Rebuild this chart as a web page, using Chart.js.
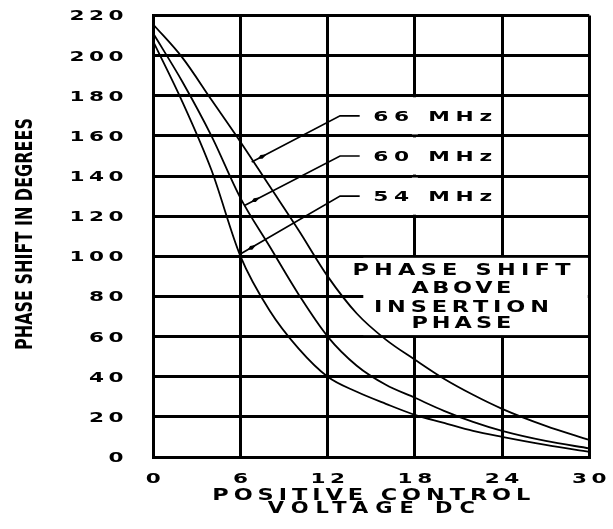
<!DOCTYPE html>
<html>
<head>
<meta charset="utf-8">
<script src="https://cdn.jsdelivr.net/npm/chart.js@4.4.1/dist/chart.umd.min.js"></script>
<style>
  html, body { margin: 0; padding: 0; background: #fff; }
  #wrap { width: 613px; height: 529px; }
</style>
</head>
<body>
<div id="wrap"><canvas id="chart"></canvas></div>
<script>
/* phase shift vs positive control voltage, three frequencies */
const voltage = [0, 2, 4, 6, 8, 10, 12, 14, 16, 18, 20, 22, 24, 27, 30];
const shift66 = [215.5, 199, 178, 157, 135, 113, 90, 71.5, 58.5, 48.5, 39, 31, 24, 15.5, 8.5];
const shift60 = [211, 187, 160, 129, 105, 81, 60, 45.5, 36, 29.5, 23, 17.5, 13, 8, 4.3];
const shift54 = [207, 177, 143, 100, 73, 54, 40, 32.5, 26.5, 21, 17, 13, 10, 6, 2.6];

const xTitle = ["POSITIVE CONTROL", "VOLTAGE DC"];
const yTitle = "PHASE SHIFT IN DEGREES";
const noteLines = ["PHASE SHIFT", "ABOVE", "INSERTION", "PHASE"];

/* leader callouts, in data units */
const leaders = [
  { text: "66 MHz", tip: [6.77, 147], elbow: [12.85, 170], end: [14.2, 170] },
  { text: "60 MHz", tip: [6.31, 125.5], elbow: [12.85, 150], end: [14.2, 150] },
  { text: "54 MHz", tip: [6.08, 101.5], elbow: [12.85, 130], end: [14.2, 130] },
];

const INK = "#000";
const CAD = "'DejaVu Sans', sans-serif";
const CAP = 0.729; // DejaVu cap height / em

function pts(ys) { return voltage.map((v, i) => ({ x: v, y: ys[i] })); }

/* wide, spaced drafting lettering. o: size, k (h-stretch), gap or width, align */
function cadText(ctx, text, x, y, o) {
  ctx.save();
  ctx.font = `bold ${o.size}px ${CAD}`;
  ctx.letterSpacing = "0px";
  const nat = ctx.measureText(text).width * o.k;
  const n = text.length;
  const gap = o.width != null && n > 1 ? (o.width - nat) / (n - 1) : (o.gap || 0);
  const w = nat + gap * (n - 1);
  const x0 = o.align === "center" ? x - w / 2 : o.align === "right" ? x - w : x;
  ctx.translate(x0, y + (o.size * CAP) / 2);
  ctx.scale(o.k, 1);
  ctx.letterSpacing = gap / o.k + "px";
  ctx.textAlign = "left";
  ctx.textBaseline = "alphabetic";
  ctx.fillStyle = INK;
  ctx.fillText(text, 0, 0);
  ctx.restore();
}

const TICK = { size: 13.5, k: 1.6, gap: 4.5 };

const draftPlugin = {
  id: "draft",
  beforeDatasetsDraw(chart) {
    const { ctx, scales: { x, y } } = chart;
    ctx.save();
    ctx.fillStyle = "#fff";
    // gridline at 18 V hidden behind the frequency labels
    [[180, 160], [160, 140], [140, 120]].forEach(([a, b]) => {
      const ya = y.getPixelForValue(a) + 1.5, yb = y.getPixelForValue(b) - 1.5;
      ctx.fillRect(x.getPixelForValue(18) - 3, ya, 6, yb - ya);
    });
    // blank panel behind the note
    const bx0 = x.getPixelForValue(14.45), bx1 = x.getPixelForValue(30) - 1.5;
    const by0 = y.getPixelForValue(100) + 1.5, by1 = y.getPixelForValue(60) - 1.5;
    ctx.fillRect(bx0, by0, bx1 - bx0, by1 - by0);
    ctx.restore();
  },
  afterDatasetsDraw(chart) {
    const { ctx, scales: { x, y } } = chart;
    const P = ([vx, vy]) => [x.getPixelForValue(vx), y.getPixelForValue(vy)];
    ctx.save();
    ctx.strokeStyle = INK;
    ctx.fillStyle = INK;
    ctx.lineWidth = 1.7;
    leaders.forEach((l) => {
      const t = P(l.tip), e = P(l.elbow), n = P(l.end);
      ctx.beginPath();
      ctx.moveTo(t[0], t[1]);
      ctx.lineTo(e[0], e[1]);
      ctx.lineTo(n[0], n[1]);
      ctx.stroke();
      // small spindle arrowhead just off the tip
      const dx = e[0] - t[0], dy = e[1] - t[1], len = Math.hypot(dx, dy);
      const ux = dx / len, uy = dy / len, nx = -uy, ny = ux;
      ctx.beginPath();
      ctx.moveTo(t[0] + ux * 7, t[1] + uy * 7);
      ctx.lineTo(t[0] + ux * 11 + nx * 2.2, t[1] + uy * 11 + ny * 2.2);
      ctx.lineTo(t[0] + ux * 17, t[1] + uy * 17);
      ctx.lineTo(t[0] + ux * 11 - nx * 2.2, t[1] + uy * 11 - ny * 2.2);
      ctx.closePath();
      ctx.fill();
      cadText(ctx, l.text, x.getPixelForValue(15.13), n[1], { size: 14.5, k: 1.5, width: 119 });
    });
    const noteY = [93.6, 84.4, 75.1, 67.0];
    const noteW = [218, 100, 175, 100];
    noteLines.forEach((s, i) => {
      cadText(ctx, s, x.getPixelForValue(21.2), y.getPixelForValue(noteY[i]),
        { size: 16, k: 1.4, width: noteW[i], align: "center" });
    });
    ctx.restore();
  },
  afterDraw(chart) {
    const { ctx, chartArea: ca, scales: { x, y } } = chart;
    // tick labels from the library's own ticks
    x.ticks.forEach((t) => {
      cadText(ctx, String(t.value), x.getPixelForValue(t.value), 478, { ...TICK, align: "center" });
    });
    y.ticks.forEach((t) => {
      cadText(ctx, String(t.value), 123.5, y.getPixelForValue(t.value), { ...TICK, align: "right" });
    });
    const cx = (ca.left + ca.right) / 2;
    cadText(ctx, xTitle[0], cx, 494, { size: 16, k: 1.4, width: 318, align: "center" });
    cadText(ctx, xTitle[1], cx, 507.5, { size: 15, k: 1.4, width: 207, align: "center" });
    // condensed vertical title
    ctx.save();
    ctx.translate(23.5, 234);
    ctx.rotate(-Math.PI / 2);
    ctx.font = `bold 23px ${CAD}`;
    const k = 232 / ctx.measureText(yTitle).width;
    ctx.scale(k, 1);
    ctx.textAlign = "center";
    ctx.textBaseline = "alphabetic";
    ctx.fillStyle = INK;
    ctx.fillText(yTitle, 0, (23 * CAP) / 2);
    ctx.restore();
  },
};

const line = (label, ys) => ({
  label, data: pts(ys),
  borderColor: INK, borderWidth: 1.8, pointRadius: 0,
  cubicInterpolationMode: "monotone", fill: false,
});

new Chart(document.getElementById("chart"), {
  type: "line",
  data: { datasets: [line("66 MHz", shift66), line("60 MHz", shift60), line("54 MHz", shift54)] },
  options: {
    responsive: true,
    maintainAspectRatio: false,
    animation: false,
    events: [],
    layout: { padding: { top: 15.5, right: 23.7, bottom: 0, left: 0 } },
    plugins: { legend: { display: false }, tooltip: { enabled: false } },
    scales: {
      x: {
        type: "linear", min: 0, max: 30,
        ticks: { stepSize: 6, display: false },
        grid: { color: INK, lineWidth: 3, drawTicks: false },
        border: { color: INK, width: 3 },
        afterFit(s) { s.height = 72; },
      },
      y: {
        min: 0, max: 220,
        ticks: { stepSize: 20, display: false },
        grid: { color: INK, lineWidth: 3, drawTicks: false },
        border: { color: INK, width: 3 },
        afterFit(s) { s.width = 153.3; },
      },
    },
  },
  plugins: [draftPlugin],
});
</script>
</body>
</html>
